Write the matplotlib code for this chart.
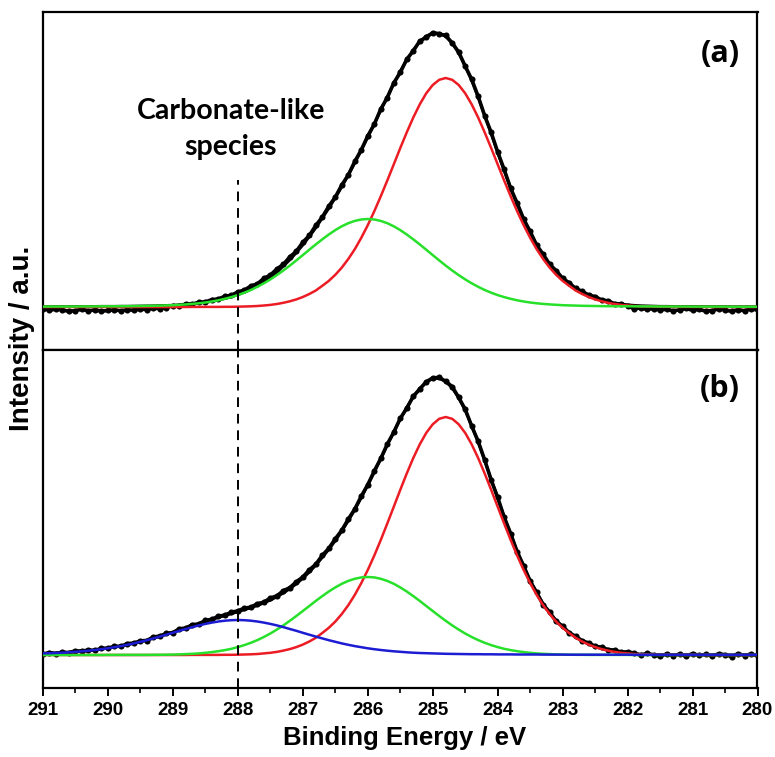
import numpy as np
import matplotlib
matplotlib.use("Agg")
import matplotlib.pyplot as plt
from matplotlib.ticker import FixedLocator

# ---------------- data (binding energy grid 280.0 ... 291.0 eV, step 0.1) ----------------
energy = np.round(np.linspace(280.0, 291.0, 111), 1)

# panel (a) components
red_a = [0.0, 0.0, 0.0, 0.0, 0.0, 0.0, 0.0, 0.0, 0.0, 0.1,
         0.1, 0.1, 0.1, 0.1, 0.2, 0.2, 0.3, 0.5, 0.7, 1.0,
         1.5, 2.1, 3.0, 4.2, 5.7, 7.6, 10.0, 13.0, 16.5, 21.2,
         26.1, 32.2, 39.4, 48.0, 57.8, 69.2, 81.8, 95.7, 110.7, 126.4,
         142.6, 158.9, 174.6, 189.4, 202.6, 213.7, 222.0, 227.2, 229.0, 227.2,
         222.0, 213.7, 202.6, 189.4, 174.6, 158.9, 142.6, 126.4, 110.7, 95.7,
         81.8, 69.2, 57.8, 48.0, 39.4, 32.2, 26.1, 21.2, 16.5, 13.0,
         10.0, 7.6, 5.7, 4.2, 3.0, 2.1, 1.5, 1.0, 0.7, 0.5,
         0.3, 0.2, 0.2, 0.1, 0.1, 0.1, 0.1, 0.1, 0.0, 0.0,
         0.0, 0.0, 0.0, 0.0, 0.0, 0.0, 0.0, 0.0, 0.0, 0.0,
         0.0, 0.0, 0.0, 0.0, 0.0, 0.0, 0.0, 0.0, 0.0, 0.0, 0.0]
green_a = [0.3, 0.3, 0.3, 0.3, 0.3, 0.4, 0.4, 0.4, 0.4, 0.4,
           0.4, 0.5, 0.5, 0.5, 0.5, 0.5, 0.6, 0.6, 0.6, 0.7,
           0.7, 0.7, 0.8, 0.8, 0.9, 1.0, 1.1, 1.2, 1.4, 1.6,
           1.8, 2.2, 2.6, 3.1, 3.7, 4.5, 5.5, 6.7, 8.2, 9.9,
           11.9, 14.3, 17.0, 20.2, 23.7, 27.6, 31.9, 36.5, 41.4, 46.6,
           51.9, 57.3, 62.6, 67.7, 72.5, 76.9, 80.7, 83.8, 86.1, 87.5,
           88.0, 87.5, 86.1, 83.8, 80.7, 76.9, 72.5, 67.7, 62.6, 57.3,
           51.9, 46.6, 41.4, 36.5, 31.9, 27.6, 23.7, 20.2, 17.0, 14.3,
           11.9, 9.9, 8.2, 6.7, 5.5, 4.5, 3.7, 3.1, 2.6, 2.2,
           1.8, 1.6, 1.4, 1.2, 1.1, 1.0, 0.9, 0.8, 0.8, 0.7,
           0.7, 0.7, 0.6, 0.6, 0.6, 0.5, 0.5, 0.5, 0.5, 0.5, 0.4]
data_a = [-3.2, -1.7, -3.9, -2.6, -4.4, -3.0, -1.9, -3.6, -4.1, -2.4,
          -3.3, -1.5, -2.9, -3.8, -2.2, -3.1, -1.6, -2.5, -0.9, -1.8,
          1.2, 3.2, 3.2, 6.2, 7.1, 10.4, 12.0, 15.7, 18.5, 24.2,
          28.7, 36.4, 42.7, 52.7, 61.9, 75.5, 87.9, 103.9, 118.6, 137.5,
          155.0, 174.5, 191.2, 210.5, 227.7, 240.7, 254.9, 264.0, 271.6, 273.0,
          274.4, 269.5, 266.0, 256.0, 247.7, 234.5, 224.0, 209.3, 197.9, 182.7,
          171.1, 157.1, 145.5, 132.1, 122.0, 109.9, 100.8, 89.9, 81.6, 71.5,
          64.7, 55.7, 50.1, 42.6, 38.0, 31.9, 28.6, 23.2, 21.0, 16.9,
          15.1, 11.7, 10.8, 8.0, 7.4, 5.1, 4.8, 2.9, 3.0, 1.3,
          1.3, -0.6, -1.8, -1.1, -2.7, -2.0, -3.4, -2.6, -3.9, -2.8,
          -3.5, -4.2, -2.9, -3.8, -2.3, -3.6, -4.4, -3.0, -2.1, -3.3, -1.6]

# panel (b) components
red_b = [0.0, 0.0, 0.0, 0.0, 0.0, 0.0, 0.0, 0.0, 0.0, 0.1,
         0.1, 0.1, 0.1, 0.1, 0.2, 0.2, 0.3, 0.5, 0.7, 1.0,
         1.6, 2.2, 3.1, 4.4, 5.9, 7.9, 10.4, 13.5, 17.2, 22.0,
         27.2, 33.4, 41.0, 49.8, 60.1, 71.9, 85.0, 99.4, 115.0, 131.4,
         148.2, 165.1, 181.5, 196.9, 210.6, 222.1, 230.7, 236.2, 238.0, 236.2,
         230.7, 222.1, 210.6, 196.9, 181.5, 165.1, 148.2, 131.4, 115.0, 99.4,
         85.0, 71.9, 60.1, 49.8, 41.0, 33.4, 27.2, 22.0, 17.2, 13.5,
         10.4, 7.9, 5.9, 4.4, 3.1, 2.2, 1.6, 1.0, 0.7, 0.5,
         0.3, 0.2, 0.2, 0.1, 0.1, 0.1, 0.1, 0.1, 0.0, 0.0,
         0.0, 0.0, 0.0, 0.0, 0.0, 0.0, 0.0, 0.0, 0.0, 0.0,
         0.0, 0.0, 0.0, 0.0, 0.0, 0.0, 0.0, 0.0, 0.0, 0.0, 0.0]
green_b = [0.0, 0.0, 0.0, 0.0, 0.0, 0.0, 0.0, 0.0, 0.0, 0.0,
           0.0, 0.0, 0.0, 0.0, 0.0, 0.0, 0.0, 0.0, 0.0, 0.0,
           0.1, 0.1, 0.1, 0.1, 0.1, 0.1, 0.1, 0.2, 0.2, 0.3,
           0.4, 0.6, 0.9, 1.2, 1.6, 2.2, 2.9, 3.8, 4.9, 6.2,
           7.9, 9.9, 12.2, 14.9, 18.0, 21.5, 25.4, 29.6, 34.2, 39.0,
           44.0, 49.0, 54.1, 58.9, 63.5, 67.6, 71.2, 74.1, 76.2, 77.6,
           78.0, 77.6, 76.2, 74.1, 71.2, 67.6, 63.5, 58.9, 54.1, 49.0,
           44.0, 39.0, 34.2, 29.6, 25.4, 21.5, 18.0, 14.9, 12.2, 9.9,
           7.9, 6.2, 4.9, 3.8, 2.9, 2.2, 1.6, 1.2, 0.9, 0.6,
           0.4, 0.3, 0.2, 0.2, 0.1, 0.1, 0.1, 0.1, 0.1, 0.1,
           0.1, 0.0, 0.0, 0.0, 0.0, 0.0, 0.0, 0.0, 0.0, 0.0, 0.0]
blue_b = [0.2, 0.2, 0.2, 0.2, 0.2, 0.2, 0.2, 0.2, 0.2, 0.2,
          0.2, 0.2, 0.2, 0.2, 0.2, 0.2, 0.2, 0.2, 0.2, 0.2,
          0.3, 0.3, 0.3, 0.3, 0.3, 0.3, 0.3, 0.3, 0.3, 0.3,
          0.4, 0.4, 0.4, 0.4, 0.5, 0.5, 0.5, 0.5, 0.6, 0.6,
          0.6, 0.7, 0.7, 0.8, 0.8, 0.9, 1.0, 1.1, 1.2, 1.4,
          1.6, 1.8, 2.0, 2.3, 2.7, 3.2, 3.7, 4.3, 5.0, 5.8,
          6.7, 7.8, 8.9, 10.2, 11.6, 13.2, 14.8, 16.6, 18.4, 20.3,
          22.2, 24.2, 26.0, 27.9, 29.6, 31.1, 32.4, 33.5, 34.3, 34.8,
          35.0, 34.8, 34.3, 33.5, 32.4, 31.1, 29.6, 27.9, 26.0, 24.2,
          22.2, 20.3, 18.4, 16.6, 14.8, 13.2, 11.6, 10.2, 8.9, 7.8,
          6.7, 5.8, 5.0, 4.3, 3.7, 3.2, 2.7, 2.3, 2.0, 1.8, 1.6]
data_b = [-1.0, 1.0, -0.5, 1.4, -1.6, 0.3, 1.2, -1.1, 0.6, -0.4,
          1.5, -1.3, 0.9, -0.6, 1.1, -1.4, 0.2, 1.6, -0.2, 1.9,
          3.2, 2.9, 4.9, 5.4, 7.8, 8.7, 12.1, 14.2, 18.8, 22.1,
          28.9, 33.6, 42.9, 50.2, 62.6, 73.7, 89.2, 103.1, 121.5, 137.8,
          157.6, 175.0, 195.0, 213.7, 228.9, 245.7, 257.5, 268.4, 273.6, 277.6,
          277.1, 273.2, 265.8, 258.7, 246.7, 236.6, 222.7, 210.8, 196.5, 184.0,
          170.3, 158.8, 145.9, 135.9, 124.7, 116.2, 106.6, 99.7, 90.7, 85.1,
          78.0, 73.2, 67.3, 64.3, 59.1, 57.0, 52.8, 51.3, 47.8, 46.9,
          44.1, 42.8, 39.8, 38.9, 35.6, 34.7, 31.0, 30.4, 27.0, 26.2,
          22.4, 21.7, 18.9, 18.1, 14.5, 14.2, 11.9, 11.4, 8.7, 8.7,
          6.9, 6.7, 4.6, 5.0, 3.9, 4.2, 2.4, 2.9, 1.5, 2.5, 0.8]

tick_values = [291, 290, 289, 288, 287, 286, 285, 284, 283, 282, 281, 280]
tick_labels = ["291", "290", "289", "288", "287", "286", "285", "284", "283", "282", "281", "280"]
carbonate_position = 288.0

# ---------------- style ----------------
RED = "#ec1c24"
GREEN = "#27e02a"
BLUE = "#1c1cd2"
LABEL_FONT = ["Liberation Sans", "DejaVu Sans"]
TICK_FONT = ["Liberation Sans Narrow", "Liberation Sans", "DejaVu Sans"]
NOTE_FONT = ["Lato", "DejaVu Sans"]
PANEL_FONT = ["Open Sans", "DejaVu Sans"]

W, H = 775, 757
fig = plt.figure(figsize=(W / 100, H / 100), dpi=100)
left, right = 43, 757.5
top_a, mid, bot_b = 12, 350, 688
axa = fig.add_axes([left / W, 1 - mid / H, (right - left) / W, (mid - top_a) / H])
axb = fig.add_axes([left / W, 1 - bot_b / H, (right - left) / W, (bot_b - mid) / H])

def draw_panel(ax, data, comps, colors):
    fit = np.sum(np.array(comps), axis=0)
    # measured points: dense dotted band
    ax.plot(energy, data, "-", color="black", lw=2.6, zorder=2, solid_capstyle="round")
    ax.plot(energy, data, "o", color="black", ms=4.4, mew=0, zorder=2)
    ax.plot(energy, fit, color="black", lw=2.0, zorder=3)
    for c, col in zip(comps, colors):
        ax.plot(energy, c, color=col, lw=1.8, zorder=4)
    ax.set_xlim(291, 280)
    for s in ax.spines.values():
        s.set_linewidth(1.6)

draw_panel(axa, data_a, [red_a, green_a], [RED, GREEN])
draw_panel(axb, data_b, [red_b, green_b, blue_b], [RED, GREEN, BLUE])
axa.set_ylim(-43, 295)
axb.set_ylim(-33, 305)

axa.tick_params(which="both", bottom=False, labelbottom=False, left=False, labelleft=False)
axb.tick_params(which="both", left=False, labelleft=False)
axb.set_xticks(tick_values)
axb.set_xticklabels(tick_labels, fontfamily=TICK_FONT, fontweight="bold", fontsize=13.5)
axb.xaxis.set_minor_locator(FixedLocator([v + 0.5 for v in tick_values[1:]]))
axb.tick_params(axis="x", which="major", direction="out", length=6, width=1.4, pad=4)
axb.tick_params(axis="x", which="minor", direction="out", length=3.5, width=1.2)

# dashed marker line
dash = (0, (5, 3.5))
axb.axvline(carbonate_position, color="black", ls=dash, lw=1.4, zorder=5)
axa.axvline(carbonate_position, ymin=0, ymax=(307 - 180 + 43) / 338, color="black", ls=dash, lw=1.4, zorder=5)

fig.text(231 / W, 1 - 119 / H, "Carbonate-like", ha="center", va="baseline",
         fontfamily=NOTE_FONT, fontweight="bold", fontsize=20.5)
fig.text(231 / W, 1 - 155 / H, "species", ha="center", va="baseline",
         fontfamily=NOTE_FONT, fontweight="bold", fontsize=20.5)
fig.text(720 / W, 1 - 54 / H, "(a)", ha="center", va="center",
         fontfamily=PANEL_FONT, fontweight="bold", fontsize=22)
fig.text(720 / W, 1 - 389 / H, "(b)", ha="center", va="center",
         fontfamily=PANEL_FONT, fontweight="bold", fontsize=22)

fig.text(405 / W, 1 - 738 / H, "Binding Energy / eV", ha="center", va="center",
         fontfamily=LABEL_FONT, fontweight="bold", fontsize=18.5)
fig.text(22 / W, 1 - 338 / H, "Intensity / a.u.", ha="center", va="center", rotation=90,
         fontfamily=LABEL_FONT, fontweight="bold", fontsize=20)

fig.savefig("out.png", dpi=100)
